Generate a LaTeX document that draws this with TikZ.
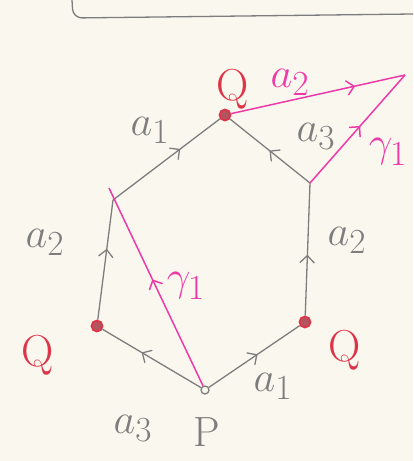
\documentclass[tikz,border=0pt]{standalone}
\usetikzlibrary{decorations.markings}
\definecolor{paper}{RGB}{250,248,238}
\definecolor{pencil}{RGB}{125,125,125}
\definecolor{hilite}{RGB}{238,58,168}
\definecolor{qred}{RGB}{222,52,72}
\begin{document}
\begin{tikzpicture}[x=1pt,y=-1pt,
    side/.style={pencil,line width=1.3pt,postaction={decorate},
      decoration={markings,mark=at position #1 with {\draw[line cap=round,line join=round] (-4pt,-7pt) -- (3pt,0pt) -- (-4pt,7pt);}}},
    loopline/.style={hilite,line width=1.5pt,postaction={decorate},
      decoration={markings,mark=at position #1 with {\draw[line cap=round,line join=round] (-4pt,-7pt) -- (3pt,0pt) -- (-4pt,7pt);}}},
    qdot/.style={circle,draw=qred,line width=1.8pt,fill=qred!55!pencil,minimum size=11pt,inner sep=0pt},
    pdot/.style={circle,draw=pencil,line width=1.3pt,fill=paper,minimum size=8pt,inner sep=0pt},
    lbl/.style={pencil,font=\Huge,scale=1.7},
    qlbl/.style={qred,font=\Huge,scale=1.8},
    hlbl/.style={hilite,font=\Huge,scale=1.7}]
  \fill[paper] (0,0) rectangle (413,461);
  \useasboundingbox (0,0) rectangle (413,461);
  % box edge at the top
  \draw[pencil,line width=1.3pt,rounded corners=9pt] (72,0) -- (73,18) -- (413,14);
  % hexagon
  \node[pdot] (p) at (205,390) {};
  \node[qdot] (qleft) at (97,326) {};
  \node[qdot] (qright) at (305,322) {};
  \node[qdot] (qtop) at (225,115) {};
  \coordinate (lcorner) at (113,200);
  \coordinate (rcorner) at (310,183);
  \draw[side=0.5] (p) -- (qright);
  \draw[side=0.57] (p) -- (qleft);
  \draw[side=0.56] (qleft) -- (lcorner);
  \draw[side=0.6] (lcorner) -- (qtop);
  \draw[side=0.43] (qright) -- (rcorner);
  \draw[side=0.47] (rcorner) -- (qtop);
  % loops
  \coordinate (gtop) at (109,188);
  \coordinate (tip) at (405,75);
  \draw[loopline=0.52] (p) -- (gtop);
  \draw[loopline=0.69] (qtop) -- (tip);
  \draw[loopline=0.5] (rcorner) -- (tip);
  % labels
  \node[qlbl] (qtoplbl) at (233,89) {Q};
  \node[qlbl] (qleftlbl) at (38,355) {Q};
  \node[qlbl] (qrightlbl) at (345,350) {Q};
  \node[lbl] (a1top) at (150,130) {$a_1$};
  \node[lbl] (a3top) at (316,136) {$a_3$};
  \node[lbl] (a2left) at (45,242) {$a_2$};
  \node[lbl] (a2right) at (347,240) {$a_2$};
  \node[lbl] (a3bot) at (133,428) {$a_3$};
  \node[lbl] (a1bot) at (273,386) {$a_1$};
  \node[lbl] (plbl) at (207,432) {P};
  \node[hlbl] (a2pink) at (290,82) {$a_2$};
  \node[hlbl] (g1right) at (388,152) {$\gamma_1$};
  \node[hlbl] (g1left) at (186,286) {$\gamma_1$};
\end{tikzpicture}
\end{document}
